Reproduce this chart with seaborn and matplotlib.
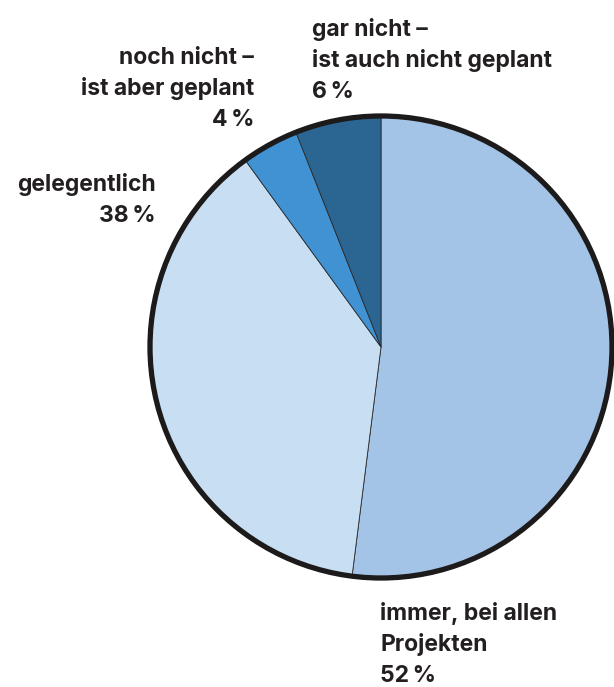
import matplotlib
matplotlib.use("Agg")
import matplotlib.pyplot as plt
import matplotlib.patches as mpatches
import seaborn as sns

# data
categories = [["immer, bei allen", "Projekten"], ["gelegentlich"],
              ["noch nicht –", "ist aber geplant"], ["gar nicht –", "ist auch nicht geplant"]]
shares = [52, 38, 4, 6]
slice_colors = ["#a3c4e6", "#c8dff3", "#4192d2", "#2b6592"]

sns.set_style("white")
plt.rcParams["font.family"] = ["Inter", "DejaVu Sans"]

W, H = 614, 687
fig = plt.figure(figsize=(W / 100, H / 100), dpi=100)
cx, cy, r = 381, 347, 231
lim = 1.02
ax = fig.add_axes([(cx - r * lim) / W, (H - cy - r * lim) / H, 2 * r * lim / W, 2 * r * lim / H])
ax.pie(shares, colors=sns.color_palette(slice_colors), startangle=90, counterclock=False,
       radius=1, wedgeprops=dict(edgecolor="#2a2a2a", linewidth=0.6))
ax.add_patch(mpatches.Circle((0, 0), 1, fill=False, edgecolor="#1c1a1a", linewidth=3.8))
ax.set_xlim(-lim, lim)
ax.set_ylim(-lim, lim)
ax.set_aspect("equal")
ax.axis("off")

txt_color = "#231f20"
fs = 16.5
step = 31
# label anchors in pixels: (x, first baseline y, alignment)
anchors = [(380, 620, "left"), (156, 191, "right"), (254, 64, "right"), (312, 36, "left")]
for lines, val, (x, y, ha) in zip(categories, shares, anchors):
    for i, line in enumerate(lines + [f"{val}\u2009%"]):
        fig.text(x / W, 1 - (y + i * step) / H, line, ha=ha, va="baseline", fontsize=fs,
                 fontweight="bold", color=txt_color)

fig.savefig("out.png", dpi=100, facecolor="white")
